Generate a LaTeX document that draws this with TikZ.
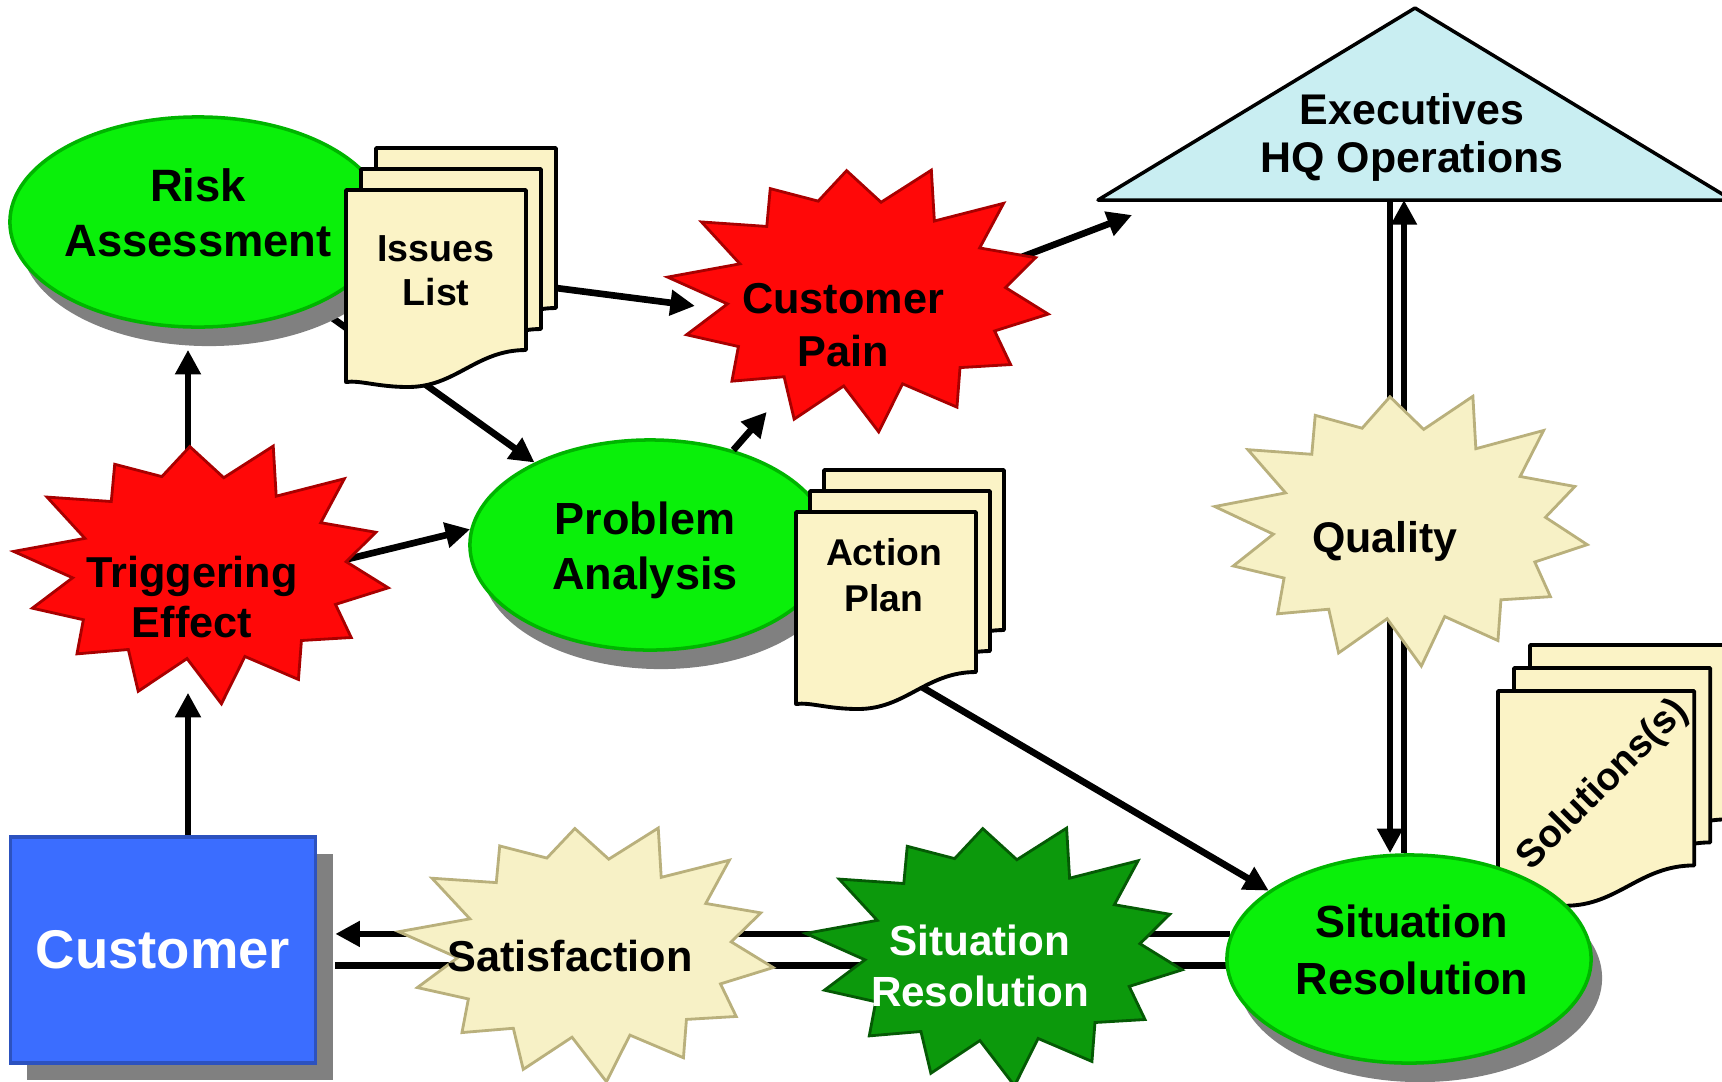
\documentclass[tikz,border=0pt]{standalone}
\usepackage{fontspec}
\setmainfont{Liberation Sans}
\usetikzlibrary{positioning,arrows.meta,shapes.geometric,shadows,calc}

\definecolor{leafgreen}{HTML}{0AF00A}
\definecolor{leafedge}{HTML}{00B400}
\definecolor{alarmred}{HTML}{FF0808}
\definecolor{alarmedge}{HTML}{A80000}
\definecolor{creamfill}{HTML}{F7F1C6}
\definecolor{creamedge}{HTML}{B9B07C}
\definecolor{darkgreen}{HTML}{0C990C}
\definecolor{darkedge}{HTML}{055A05}
\definecolor{paper}{HTML}{FBF3C6}
\definecolor{custblue}{HTML}{3B6DFF}
\definecolor{skyblue}{HTML}{C9EEF2}
\definecolor{shade}{HTML}{808080}

\pgfdeclarelayer{back}
\pgfsetlayers{back,main}

\tikzset{
  flow/.style={line width=1.9pt, -{Triangle[length=7pt,width=7pt]}},
  link/.style={line width=1.9pt},
  blob/.style={ellipse, fill=leafgreen, draw=leafedge, line width=1pt, inner sep=0pt,
    drop shadow={shadow xshift=0.11cm, shadow yshift=-0.19cm, fill=shade, opacity=1}},
  page/.style={fill=paper, draw=black, line width=1.1pt, line join=round},
  redburst/.style={fill=alarmred, draw=alarmedge, line width=0.8pt},
  creamburst/.style={fill=creamfill, draw=creamedge, line width=0.8pt},
  greenburst/.style={fill=darkgreen, draw=darkedge, line width=0.8pt},
  lbl/.style={align=center, inner sep=0pt},
  spot/.style={lbl, ellipse, minimum width=3cm, minimum height=2cm},
  custbox/.style={rectangle, fill=custblue, draw=custblue!75!black, line width=1pt,
    minimum width=3.05cm, minimum height=2.26cm, inner sep=0pt, text=white,
    font=\bfseries\fontsize{15.5}{18}\selectfont,
    drop shadow={shadow xshift=0.17cm, shadow yshift=-0.17cm, fill=shade, opacity=1}},
  roof/.style={fill=skyblue, draw=black, line width=1pt, line join=round},
}

% spiky burst: centre, x radius, y radius, style
\newcommand{\starburst}[4]{%
  \filldraw[#4, shift={(#1)}] (8:#2 and #3)
    \foreach \k [evaluate={\k as \rf using (0.73+0.27*(1-mod(\k,2)))*(1+0.05*sin(\k*137))}] in {1,...,27}
      { -- ({8+\k*360/28}:\rf*#2 and \rf*#3) }
    -- cycle;}

% one sheet of a document stack: top left x, y, scale
\newcommand{\docpage}[3]{%
  \filldraw[page, shift={(#1,#2)}, scale=#3] (0,0) -- (180,0) -- (180,160)
    .. controls (130,160) and (110,197) .. (62,197)
    .. controls (32,197) and (14,190) .. (0,192) -- cycle;}

\begin{document}
\begin{tikzpicture}[x=0.01cm, y=-0.01cm]
  \useasboundingbox (0,0) rectangle (1722,1081);

  % ellipses
  \node[blob, minimum width=3.76cm, minimum height=2.1cm] (risk) at (198,222) {};
  \node[blob, minimum width=3.6cm, minimum height=2.1cm] (prob) at (650,545) {};

  % documents
  \foreach \d in {2,1,0} {\docpage{346+15*\d}{190-21*\d}{1}}
  \foreach \d in {2,1,0} {\docpage{796+14*\d}{512-21*\d}{1}}
  \foreach \d in {2,1,0} {\docpage{1498+16*\d}{691-23*\d}{1.09}}

  \node[blob, minimum width=3.64cm, minimum height=2.08cm] (sitres) at (1409,959) {};

  % bursts
  \starburst{862,296}{188}{130}{redburst}
  \starburst{205,570}{185}{128}{redburst}
  \starburst{1405,526}{184}{134}{creamburst}
  \starburst{590,950}{185}{126}{creamburst}
  \starburst{998,952}{186}{128}{greenburst}

  % executives
  \filldraw[roof] (1098,200) -- (1415,8) -- (1732,200) -- cycle;

  \node[custbox] (cust) at (163,950) {Customer};

  % texts
  \node[lbl, font=\bfseries\fontsize{12.9}{15.5}\selectfont] (risktxt) at (198,213) {Risk\\Assessment};
  \node[lbl, font=\bfseries\fontsize{12.8}{15.6}\selectfont] (probtxt) at (645,550) {Problem\\Analysis};
  \node[lbl, font=\bfseries\fontsize{12.8}{16}\selectfont] (sitrestxt) at (1412,950) {Situation\\Resolution};
  \node[lbl, font=\bfseries\fontsize{10.7}{12.5}\selectfont] (issues) at (436,271) {Issues\\List};
  \node[lbl, font=\bfseries\fontsize{10.6}{13}\selectfont] (act) at (884,575) {Action\\Plan};
  \node[lbl, rotate=45, font=\bfseries\fontsize{11}{13}\selectfont] (sol) at (1603,785) {Solutions(s)};
  \node[lbl, font=\bfseries\fontsize{12.2}{13.7}\selectfont] (exec) at (1412,137) {Executives\\HQ Operations};
  \node[spot, font=\bfseries\fontsize{12.3}{15}\selectfont] (pain) at (843,325) {Customer\\Pain};
  \node[spot, minimum height=1.9cm, font=\bfseries\fontsize{12.3}{14}\selectfont] (trig) at (192,597) {Triggering\\Effect};
  \node[lbl, font=\bfseries\fontsize{12.2}{14}\selectfont] (qual) at (1385,541) {Quality};
  \node[lbl, font=\bfseries\fontsize{12.3}{14}\selectfont] (satis) at (570,956) {Satisfaction};
  \node[lbl, text=white, font=\bfseries\fontsize{12}{14.7}\selectfont] (sitfix) at (980,966) {Situation\\Resolution};

  \coordinate (colL) at (188,0);
  \coordinate (colA) at (1390,0);
  \coordinate (colB) at (1404,0);
  \coordinate (execL) at (1132,215);
  \coordinate (execbase) at (1415,200);
  \coordinate (issuesR) at (556,288);
  \coordinate (actfoot) at (915,683);
  \coordinate (custR) at ($(cust.east)+(18,0)$);

  % arrows in front
  \draw[flow] (cust.north -| colL) -- (trig.south -| colL);
  \draw[flow] (issuesR) -- (pain);
  \draw[flow] (prob) -- (pain);

  % arrows behind the shapes
  \begin{pgfonlayer}{back}
    \draw[flow] (trig.center -| colL) -- ($(risk.south -| colL)+(0,21)$);
    \draw[flow] (trig.center) -- (prob.175);
    \draw[flow] (risk) -- (prob);
    \draw[flow] (pain.center) -- (execL);
    \draw[flow] (actfoot) -- (sitres.154);
    \draw[flow] (sitres.172) -- (sitres.172 -| custR);
    \draw[link] (custR |- sitres.182) -- (sitres.182);
    \draw[flow] (execbase -| colA) -- (sitres.north -| colA);
    \draw[flow] (sitres.north -| colB) -- (execbase -| colB);
  \end{pgfonlayer}
\end{tikzpicture}
\end{document}
